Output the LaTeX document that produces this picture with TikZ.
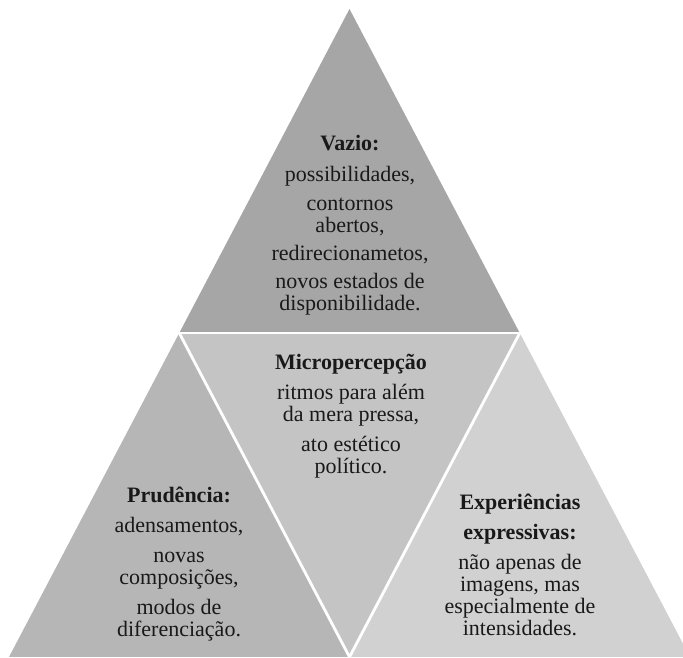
\documentclass[tikz,border=0pt]{standalone}
\usepackage{fontspec}
\setmainfont{Liberation Serif}
\definecolor{ctop}{RGB}{166,166,166}
\definecolor{cleft}{RGB}{182,182,182}
\definecolor{cmid}{RGB}{196,196,196}
\definecolor{cright}{RGB}{209,209,209}
\begin{document}
\begin{tikzpicture}[x=1pt,y=1pt,
  gap/.style={draw=white,line width=2.8pt},
  txt/.style={align=center,inner sep=0pt,anchor=base,font=\fontsize{22}{22}\selectfont,text=black!90}]
\useasboundingbox (0,0) rectangle (683,658);
\clip (0,0) rectangle (683,658);
\coordinate (A) at (349.5,649);
\coordinate (L) at (9,1);
\coordinate (B) at (349.5,1);
\coordinate (R) at (690,1);
\coordinate (ML) at (179.25,325);
\coordinate (MR) at (519.75,325);
\fill[ctop] (A) -- (ML) -- (MR) -- cycle;
\fill[cleft] (ML) -- (L) -- (B) -- cycle;
\fill[cmid] (ML) -- (MR) -- (B) -- cycle;
\fill[cright] (MR) -- (B) -- (R) -- cycle;
\draw[gap] (ML) -- (MR);
\draw[gap] (ML) -- (B) -- (MR);
\node[txt] (vazio) at (350,347) {\textbf{Vazio:}\\[9pt]
  possibilidades,\\[7pt]
  contornos\\ abertos,\\[6pt]
  redirecionametos,\\[6pt]
  novos estados de\\ disponibilidade.};
\node[txt] (micro) at (351,184) {\textbf{Micropercepção}\\[8pt]
  ritmos para além\\ da mera pressa,\\[8pt]
  ato estético\\ político.};
\node[txt] (prud) at (179,21) {\textbf{Prudência:}\\[8pt]
  adensamentos,\\[8pt]
  novas\\ composições,\\[8pt]
  modos de\\ diferenciação.};
\node[txt] (exp) at (520,22) {\textbf{Experiências}\\[8pt]
  \textbf{expressivas:}\\[8pt]
  não apenas de\\ imagens, mas\\ especialmente de\\ intensidades.};
\end{tikzpicture}
\end{document}
